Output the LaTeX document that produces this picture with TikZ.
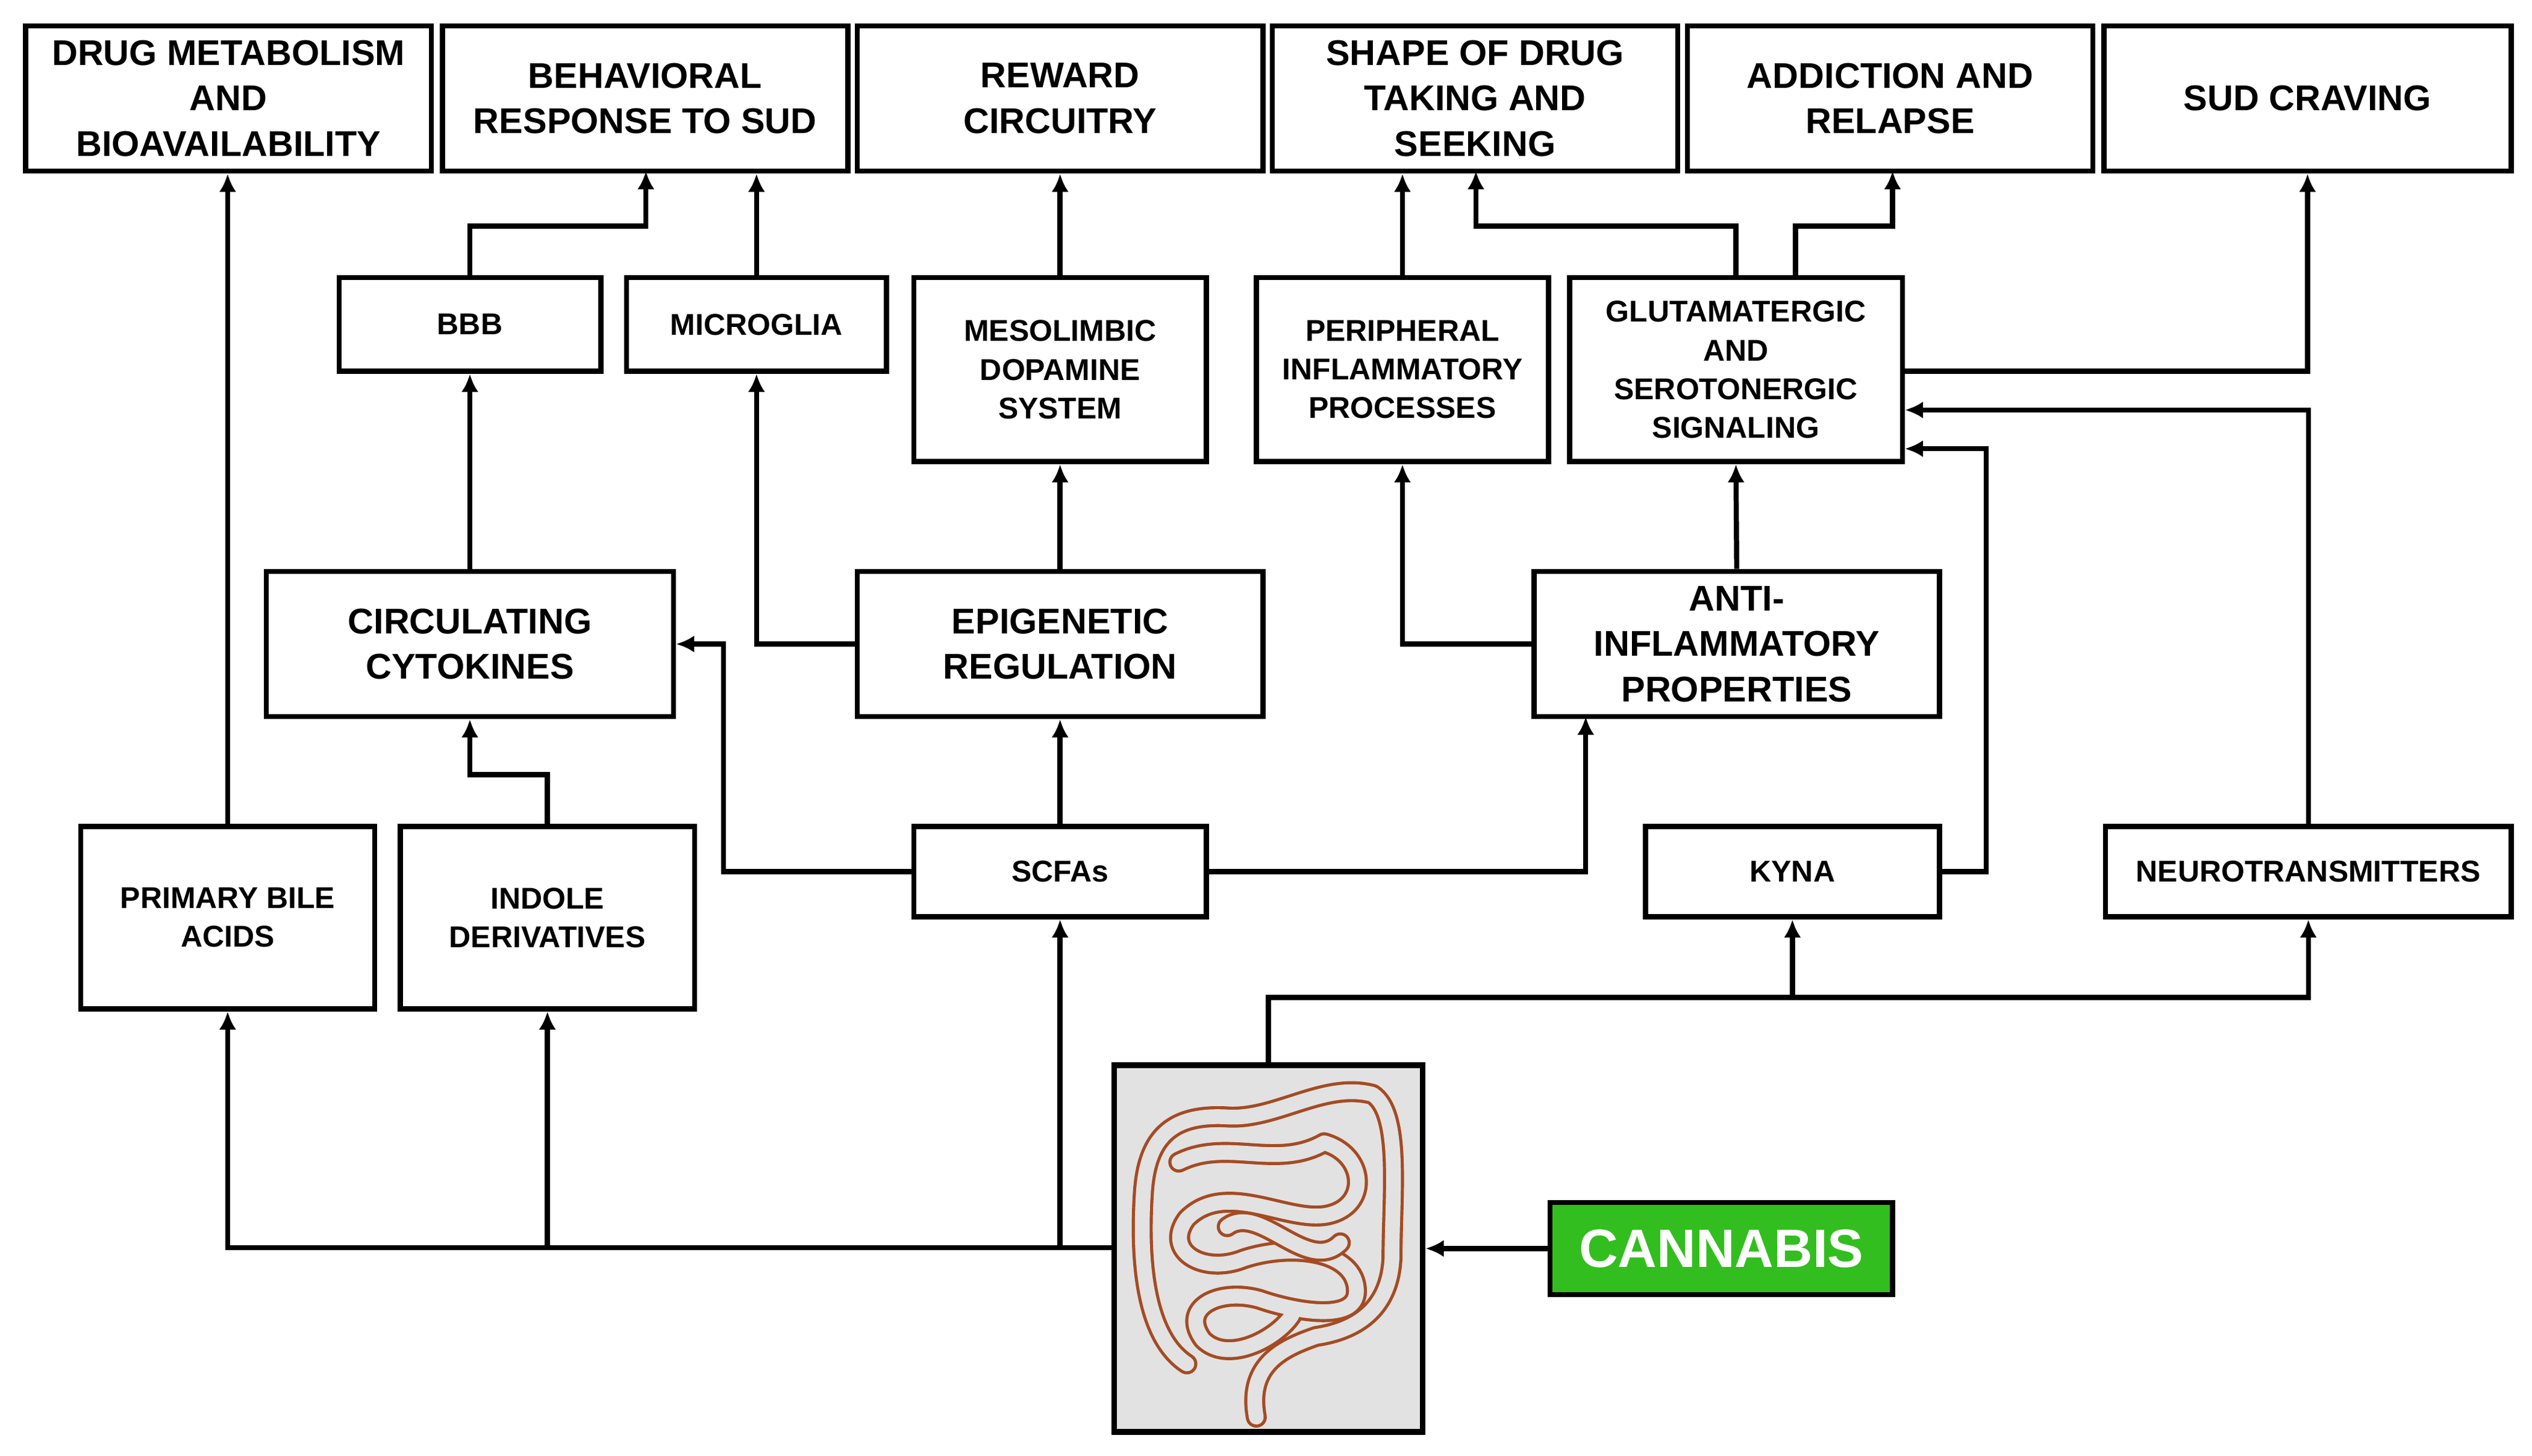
\documentclass[tikz,border=0pt]{standalone}
\usepackage{fontspec}
\setmainfont{Liberation Sans}
\usetikzlibrary{arrows.meta}
\definecolor{gutbrown}{RGB}{165,75,35}
\definecolor{gutgray}{RGB}{226,226,226}
\definecolor{canngreen}{RGB}{50,190,30}
\tikzset{
  box/.style={draw,line width=0.9pt,align=center,inner sep=0pt,font=\bfseries\fontsize{6.3}{8}\selectfont},
  sbox/.style={box,font=\bfseries\fontsize{5.3}{6.8}\selectfont},
  link/.style={line width=0.9pt,-{Latex[length=3.2pt,width=3pt]}},
  tube/.style={draw=gutbrown,double=gutgray,double distance=2.6pt,line width=0.55pt,line cap=round,line join=round},
}
\begin{document}
\begin{tikzpicture}[x=0.01cm,y=-0.01cm]
\useasboundingbox (0,0) rectangle (1568,902);
% top row
\node[box,minimum width=2.51cm,minimum height=0.9cm] (dm) at (141.5,61) {DRUG METABOLISM\\AND\\BIOAVAILABILITY};
\node[box,minimum width=2.51cm,minimum height=0.9cm] (br) at (399.5,61) {BEHAVIORAL\\RESPONSE TO SUD};
\node[box,minimum width=2.51cm,minimum height=0.9cm] (rc) at (656.5,61) {REWARD\\CIRCUITRY};
\node[box,minimum width=2.51cm,minimum height=0.9cm] (sd) at (913.5,61) {SHAPE OF DRUG\\TAKING AND\\SEEKING};
\node[box,minimum width=2.51cm,minimum height=0.9cm] (ar) at (1170.5,61) {ADDICTION AND\\RELAPSE};
\node[box,minimum width=2.52cm,minimum height=0.9cm] (sc) at (1429,61) {SUD CRAVING};
% second row
\node[sbox,minimum width=1.62cm,minimum height=0.58cm] (bbb) at (291,201) {BBB};
\node[sbox,minimum width=1.61cm,minimum height=0.58cm] (mic) at (468.5,201) {MICROGLIA};
\node[sbox,minimum width=1.81cm,minimum height=1.14cm] (mes) at (656.5,229) {MESOLIMBIC\\DOPAMINE\\SYSTEM};
\node[sbox,minimum width=1.81cm,minimum height=1.14cm] (per) at (868.5,229) {PERIPHERAL\\INFLAMMATORY\\PROCESSES};
\node[sbox,minimum width=2.06cm,minimum height=1.14cm] (glu) at (1075,229) {GLUTAMATERGIC\\AND\\SEROTONERGIC\\SIGNALING};
% third row
\node[box,minimum width=2.52cm,minimum height=0.9cm] (cyt) at (291,399) {CIRCULATING\\CYTOKINES};
\node[box,minimum width=2.51cm,minimum height=0.9cm] (epi) at (656.5,399) {EPIGENETIC\\REGULATION};
\node[box,minimum width=2.51cm,minimum height=0.9cm] (ant) at (1075.5,399) {ANTI-\\INFLAMMATORY\\PROPERTIES};
% fourth row
\node[sbox,minimum width=1.82cm,minimum height=1.13cm] (bil) at (141,568.5) {PRIMARY BILE\\ACIDS};
\node[sbox,minimum width=1.82cm,minimum height=1.13cm] (ind) at (339,568.5) {INDOLE\\DERIVATIVES};
\node[sbox,minimum width=1.81cm,minimum height=0.56cm] (scf) at (656.5,540) {SCFAs};
\node[sbox,minimum width=1.82cm,minimum height=0.56cm] (kyn) at (1110,540) {KYNA};
\node[sbox,minimum width=2.51cm,minimum height=0.56cm] (neu) at (1429.5,540) {NEUROTRANSMITTERS};
% gut and cannabis
\node[draw,line width=1pt,fill=gutgray,minimum width=1.91cm,minimum height=2.27cm,inner sep=0pt] (gut) at (785.5,773.5) {};
\node[box,fill=canngreen,text=white,minimum width=2.12cm,minimum height=0.57cm,font=\bfseries\fontsize{9.5}{11}\selectfont] (can) at (1066,773.5) {CANNABIS};
% intestine sketch
\draw[tube] (735,845) .. controls (712,830) and (705,790) .. (708,740)
  .. controls (710,705) and (725,690) .. (760,692)
  .. controls (790,694) and (820,670) .. (850,678)
  .. controls (868,690) and (862,740) .. (862,780)
  .. controls (860,815) and (835,825) .. (815,828)
  .. controls (795,835) and (772,845) .. (778,878);
\draw[tube] (730,720) .. controls (760,705) and (790,725) .. (820,708)
  .. controls (845,715) and (848,745) .. (825,752)
  .. controls (800,760) and (760,730) .. (735,755)
  .. controls (720,775) and (745,790) .. (770,780)
  .. controls (800,770) and (840,775) .. (840,800)
  .. controls (840,820) and (800,812) .. (780,805)
  .. controls (755,798) and (730,810) .. (745,830)
  .. controls (760,845) and (790,830) .. (800,815);
\draw[tube] (760,760) .. controls (780,745) and (810,790) .. (830,770);
% connectors from the gut
\draw[link] (gut.west |- 0,773) -| (bil.south);
\draw[link] (339,773) -- (ind.south);
\draw[link] (656.5,773) -- (scf.south);
\draw[link] (gut.north) |- (1110,618) -- (kyn.south);
\draw[link] (1110,618) -| (neu.south);
\draw[link] (can.west) -- (gut.east |- can.west);
% middle connectors
\draw[link] (bil.north) -- (dm.south -| bil.north);
\draw[link] (ind.north) |- (291,480) -- (cyt.south);
\draw[link] (scf.west) -| (448,399) -- (cyt.east);
\draw[link] (scf.north) -- (epi.south);
\draw[link] (scf.east) -| (982,444);
\draw[link] (kyn.east) -| (1230,278) -- (glu.east |- 0,278);
\draw[link] (neu.north) |- (glu.east |- 0,254);
\draw[link] (glu.east |- 0,230) -| (sc.south);
\draw[link] (epi.west) -| (mic.south);
\draw[link] (epi.north) -- (mes.south);
\draw[link] (ant.west) -| (per.south);
\draw[link] (ant.north) -- (glu.south);
\draw[link] (cyt.north) -- (bbb.south);
\draw[link] (bbb.north) |- (400,140) -- (400,106);
\draw[link] (mic.north) -- (mic.north |- br.south);
\draw[link] (mes.north) -- (rc.south);
\draw[link] (per.north) -- (per.north |- sd.south);
\draw[link] (1075,172) |- (914,140) -- (914,106);
\draw[link] (1112,172) |- (1172,140) -- (1172,106);
\end{tikzpicture}
\end{document}
